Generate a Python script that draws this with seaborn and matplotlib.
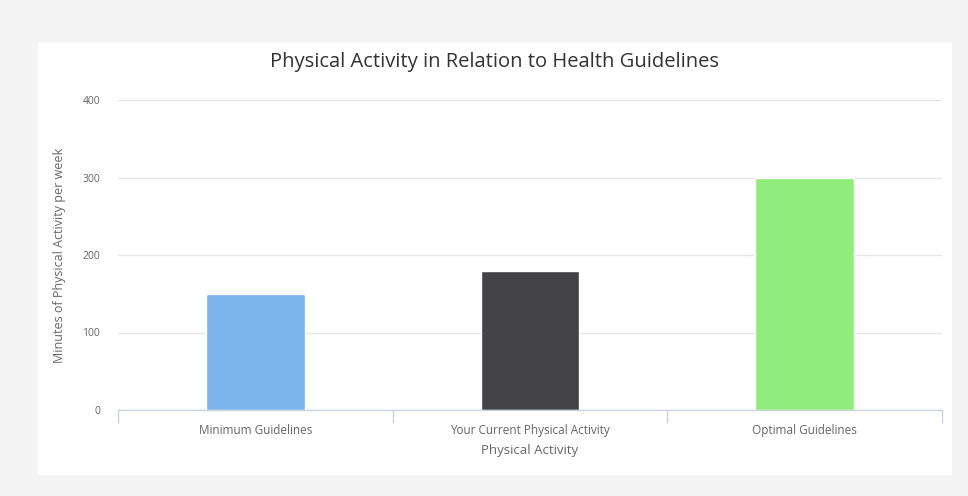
import matplotlib
matplotlib.use("Agg")
import matplotlib.pyplot as plt
from matplotlib.patches import Rectangle
import seaborn as sns
import pandas as pd

categories = ["Minimum Guidelines", "Your Current Physical Activity", "Optimal Guidelines"]
minutes = [150, 180, 300]
bar_colors = ["#7cb5ec", "#434348", "#90ed7d"]
y_ticks = [0, 100, 200, 300, 400]

title = "Physical Activity in Relation to Health Guidelines"
x_label = "Physical Activity"
y_label = "Minutes of Physical Activity per week"

sns.set_theme(style="white")
plt.rcParams["font.family"] = ["Open Sans", "DejaVu Sans"]

W, H = 968, 496
fig = plt.figure(figsize=(W / 100, H / 100), dpi=100, facecolor="#f4f4f4")

# white panel
fig.patches.append(Rectangle((38 / W, 1 - 475 / H), (952 - 38) / W, (475 - 42) / H,
                             transform=fig.transFigure, facecolor="white",
                             edgecolor="none", zorder=-5))

ax = fig.add_axes([118 / W, 1 - 410 / H, (942 - 118) / W, (410 - 100) / H])
ax.set_zorder(2)
ax.set_facecolor("white")

df = pd.DataFrame({"cat": categories, "val": minutes})
sns.barplot(data=df, x="cat", y="val", hue="cat", palette=bar_colors,
            width=0.36, legend=False, ax=ax, saturation=1, zorder=3)

ax.set_ylim(0, 400)
ax.set_xlim(-0.5, len(categories) - 0.5)
ax.set_yticks(y_ticks)
ax.yaxis.grid(True, color="#e6e6e6", linewidth=1)
ax.set_axisbelow(True)
for s in ["top", "right", "left"]:
    ax.spines[s].set_visible(False)
ax.spines["bottom"].set_color("#ccd3e0")
ax.spines["bottom"].set_linewidth(1)
ax.spines["bottom"].set_zorder(4)

ax.tick_params(axis="y", length=0, labelsize=7.5, labelcolor="#666666", pad=13)
ax.tick_params(axis="x", which="major", length=0, labelsize=8.5, labelcolor="#666666", pad=10)
ax.set_xticks([i - 0.5 for i in range(len(categories) + 1)], minor=True)
ax.tick_params(axis="x", which="minor", bottom=True, length=9, color="#ccd3e0",
               width=1, direction="out")

ax.set_xlabel(x_label, fontsize=9.5, color="#666666", labelpad=5)
ax.set_ylabel(y_label, fontsize=9, color="#666666", labelpad=12)

fig.text(495 / W, 1 - 62 / H, title, ha="center", va="center",
         fontsize=14.5, color="#333333")

fig.savefig("out.png", dpi=100, facecolor=fig.get_facecolor())
